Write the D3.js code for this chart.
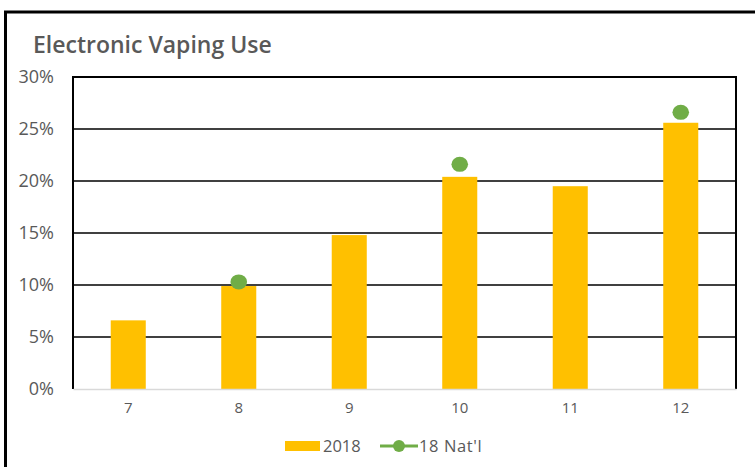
<!DOCTYPE html>
<html>
<head>
<meta charset="utf-8">
<script src="https://cdn.jsdelivr.net/npm/d3@7"></script>
<style>
  body { margin: 0; background: #fff; }
  text { font-family: "Open Sans", "Noto Sans", sans-serif; }
</style>
</head>
<body>
<div id="chart"></div>
<script>
// data
var grades = ["7", "8", "9", "10", "11", "12"];
var use2018 = [6.6, 9.9, 14.8, 20.4, 19.5, 25.6];
var natl18 = [null, 10.3, null, 21.6, null, 26.6];
var yTicks = [0, 5, 10, 15, 20, 25, 30];

var W = 755, H = 467;
var margin = {top: 77, right: 19, bottom: 78, left: 73},
    width = W - margin.left - margin.right,
    height = H - margin.top - margin.bottom;

var root = d3.select("#chart").append("svg")
  .attr("width", W)
  .attr("height", H);

// outer frame (only top and left visible in the crop)
root.append("line").attr("x1", 4).attr("x2", W).attr("y1", 12).attr("y2", 12)
  .attr("stroke", "#000").attr("stroke-width", 3);
root.append("line").attr("x1", 5.5).attr("x2", 5.5).attr("y1", 11).attr("y2", H)
  .attr("stroke", "#000").attr("stroke-width", 3);

root.append("text")
  .attr("x", 33).attr("y", 53)
  .attr("fill", "#595959")
  .style("font-size", "23px")
  .style("font-weight", "600")
  .text("Electronic Vaping Use");

var svg = root.append("g")
  .attr("transform", "translate(" + margin.left + "," + margin.top + ")");

var x = d3.scaleBand()
  .domain(grades)
  .range([0, width])
  .paddingInner(0.683)
  .paddingOuter(0.3415);

var y = d3.scaleLinear()
  .domain([0, 30])
  .range([height, 0]);

// gridlines
svg.selectAll(".grid")
  .data(yTicks.filter(function(d) { return d > 0; }))
  .enter().append("line")
  .attr("x1", 0).attr("x2", width)
  .attr("y1", function(d) { return y(d); })
  .attr("y2", function(d) { return y(d); })
  .attr("stroke", "#000").attr("stroke-width", 1.6);

// y axis labels
var yAxis = svg.append("g")
  .call(d3.axisLeft(y).tickValues(yTicks).tickSize(0).tickPadding(19)
    .tickFormat(function(d) { return d + "%"; }));
yAxis.select(".domain").remove();
yAxis.selectAll("text").attr("fill", "#595959").style("font-size", "18px");

// bars
svg.selectAll(".bar")
  .data(use2018)
  .enter().append("rect")
  .attr("x", function(d, i) { return x(grades[i]); })
  .attr("y", function(d) { return y(d); })
  .attr("width", x.bandwidth())
  .attr("height", function(d) { return height - y(d); })
  .attr("fill", "#FFC000");

// frame of plot area
svg.append("line").attr("x1", 0).attr("x2", width).attr("y1", 0).attr("y2", 0)
  .attr("stroke", "#000").attr("stroke-width", 2);
svg.append("line").attr("x1", 0).attr("x2", 0).attr("y1", -1).attr("y2", height)
  .attr("stroke", "#000").attr("stroke-width", 2);
svg.append("line").attr("x1", width).attr("x2", width).attr("y1", -1).attr("y2", height)
  .attr("stroke", "#000").attr("stroke-width", 2);

// x axis
var xAxis = svg.append("g")
  .attr("transform", "translate(0," + height + ")")
  .call(d3.axisBottom(x).tickSize(0).tickPadding(13));
xAxis.select(".domain").attr("stroke", "#d9d9d9").attr("stroke-width", 1.5);
xAxis.selectAll("text").attr("fill", "#595959").style("font-size", "15px");

// national dots
svg.selectAll(".dot")
  .data(natl18.map(function(v, i) { return {g: grades[i], v: v}; })
    .filter(function(d) { return d.v != null; }))
  .enter().append("ellipse")
  .attr("cx", function(d) { return x(d.g) + x.bandwidth() / 2; })
  .attr("cy", function(d) { return y(d.v); })
  .attr("rx", 8.3).attr("ry", 7.5)
  .attr("fill", "#70AD47");

// legend
var lg = root.append("g").attr("transform", "translate(285,446)");
lg.append("rect").attr("x", 0).attr("y", -5).attr("width", 35).attr("height", 10)
  .attr("fill", "#FFC000");
lg.append("text").attr("x", 38).attr("y", 0).attr("dy", "0.35em")
  .attr("fill", "#595959").style("font-size", "16.5px").text("2018");
lg.append("line").attr("x1", 95).attr("x2", 133).attr("y1", 0).attr("y2", 0)
  .attr("stroke", "#70AD47").attr("stroke-width", 3);
lg.append("circle").attr("cx", 114).attr("cy", 0).attr("r", 6)
  .attr("fill", "#70AD47");
lg.append("text").attr("x", 134).attr("y", 0).attr("dy", "0.35em")
  .attr("fill", "#595959").style("font-size", "16.5px")
  .style("letter-spacing", "0.6px").text("18 Nat'l");
</script>
</body>
</html>
